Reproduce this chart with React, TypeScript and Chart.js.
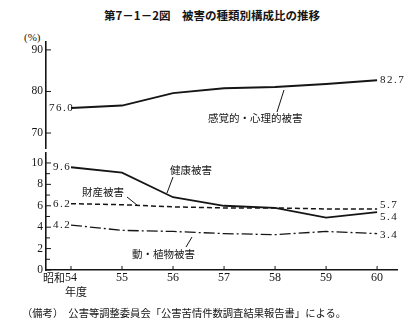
import React, { useEffect, useRef } from 'react';
import { Chart, registerables } from 'chart.js';

Chart.register(...registerables);

// ---- data ----
const years = [54, 55, 56, 57, 58, 59, 60];
const yearLabels = ['54', '55', '56', '57', '58', '59', '60'];
const sensory = [76.0, 76.6, 79.6, 80.8, 81.1, 81.8, 82.7];
const health = [9.6, 9.1, 6.8, 6.0, 5.8, 4.9, 5.4];
const property = [6.2, 6.1, 5.9, 5.8, 5.8, 5.7, 5.7];
const animal = [4.2, 3.7, 3.6, 3.4, 3.3, 3.6, 3.4];
const topTicks = [70, 80, 90];
const bottomTicks = [0, 1, 2, 3, 4, 5, 6, 7, 8, 9, 10];
const seriesNames = ['感覚的・心理的被害', '健康被害', '財産被害', '動・植物被害'];

const INK = '#151515';
const SERIF = '"Liberation Serif", "DejaVu Serif", serif';
const JP = '"Noto Sans CJK JP", sans-serif';

const pts = (vals: number[]) => years.map((x, i) => ({ x, y: vals[i] }));

function drawText(ctx: CanvasRenderingContext2D, text: string, x: number, y: number, font: string, align: CanvasTextAlign = 'left', spacing = '0px') {
  ctx.save();
  ctx.font = font;
  (ctx as any).letterSpacing = spacing;
  ctx.fillStyle = INK;
  ctx.textAlign = align;
  ctx.textBaseline = 'middle';
  ctx.fillText(text, x, y);
  ctx.restore();
}

function line(ctx: CanvasRenderingContext2D, x1: number, y1: number, x2: number, y2: number, w = 1) {
  ctx.save();
  ctx.strokeStyle = INK;
  ctx.lineWidth = w;
  ctx.beginPath();
  ctx.moveTo(x1, y1);
  ctx.lineTo(x2, y2);
  ctx.stroke();
  ctx.restore();
}

const NUM_FONT = `11px ${SERIF}`;
const LBL_FONT = `10.5px ${JP}`;
const SP = '1.5px';

const topPlugin = {
  id: 'topDecor',
  afterDraw(chart: any) {
    const { ctx, chartArea, scales } = chart;
    const xs = scales.x, ys = scales.y;
    topTicks.forEach((v) => {
      const py = ys.getPixelForValue(v);
      line(ctx, chartArea.left, py, chartArea.left + 5, py, 1);
    });
    const xn = xs.getPixelForValue(years[years.length - 1]);
    drawText(ctx, sensory[0].toFixed(1), chartArea.left + 3, ys.getPixelForValue(sensory[0]), NUM_FONT, 'left', SP);
    drawText(ctx, sensory[sensory.length - 1].toFixed(1), xn + 3, ys.getPixelForValue(sensory[sensory.length - 1]), NUM_FONT, 'left', SP);
    drawText(ctx, seriesNames[0], 208, 118, LBL_FONT, 'left');
    line(ctx, 284, 90, 277, 112, 1);
  },
};

const bottomPlugin = {
  id: 'bottomDecor',
  afterDraw(chart: any) {
    const { ctx, chartArea, scales } = chart;
    const xs = scales.x, ys = scales.y;
    bottomTicks.forEach((v) => {
      const py = ys.getPixelForValue(v);
      line(ctx, chartArea.left, py, chartArea.left + (v % 2 === 0 ? 5 : 4), py, 1);
    });
    years.forEach((v) => {
      const px = xs.getPixelForValue(v);
      line(ctx, px, chartArea.bottom, px, chartArea.bottom - 4, 1);
    });
    const x0 = xs.getPixelForValue(years[0]);
    const xn = xs.getPixelForValue(years[years.length - 1]);
    const last = years.length - 1;
    const lx = chartArea.left + 7;
    drawText(ctx, health[0].toFixed(1), lx, ys.getPixelForValue(health[0]), NUM_FONT, 'left', SP);
    drawText(ctx, property[0].toFixed(1), lx, ys.getPixelForValue(property[0]), NUM_FONT, 'left', SP);
    drawText(ctx, animal[0].toFixed(1), lx, ys.getPixelForValue(animal[0]), NUM_FONT, 'left', SP);
    drawText(ctx, property[last].toFixed(1), xn + 3, ys.getPixelForValue(property[last]) - 4, NUM_FONT, 'left', SP);
    drawText(ctx, health[last].toFixed(1), xn + 3, ys.getPixelForValue(health[last]) + 5, NUM_FONT, 'left', SP);
    drawText(ctx, animal[last].toFixed(1), xn + 3, ys.getPixelForValue(animal[last]) + 2, NUM_FONT, 'left', SP);
    drawText(ctx, seriesNames[1], 170, 170, LBL_FONT, 'left');
    line(ctx, 173, 177, 167, 193, 1);
    drawText(ctx, seriesNames[2], 82, 192, LBL_FONT, 'left');
    line(ctx, 127, 197, 137, 205, 1);
    drawText(ctx, seriesNames[3], 132, 254, LBL_FONT, 'left');
    line(ctx, 186, 247, 192, 237, 1);
    drawText(ctx, '昭和', x0 - 6, chartArea.bottom + 8, `11px ${JP}`, 'right');
    drawText(ctx, '年度', x0 + 5, chartArea.bottom + 22, `11px ${JP}`, 'center');
  },
};

const X_MIN = 53.51;
const X_MAX = 60.39;

function baseY(min: number, max: number, ticks: number[], cb: (v: number) => string) {
  return {
    min,
    max,
    afterFit: (s: any) => { s.width = 46; },
    afterBuildTicks: (s: any) => { s.ticks = ticks.map((value) => ({ value })); },
    grid: { display: false, drawTicks: false },
    border: { display: true, color: INK, width: 1.6 },
    ticks: { color: INK, font: { family: SERIF, size: 11.5 }, padding: 3, callback: cb },
  };
}

export default function App() {
  const topRef = useRef<HTMLCanvasElement>(null);
  const botRef = useRef<HTMLCanvasElement>(null);

  useEffect(() => {
    const top = new Chart(topRef.current!, {
      type: 'line',
      data: {
        datasets: [
          { label: seriesNames[0], data: pts(sensory), borderColor: INK, borderWidth: 2, pointRadius: 0, tension: 0, fill: false },
        ],
      },
      options: {
        responsive: false,
        animation: false,
        devicePixelRatio: 1,
        layout: { padding: { top: 42, bottom: 182, left: 0, right: 13 } },
        plugins: { legend: { display: false }, tooltip: { enabled: false }, title: { display: false } },
        scales: {
          x: { type: 'linear', min: X_MIN, max: X_MAX, display: false },
          y: baseY(66.4, 91.9, topTicks, (v: any) => String(v)),
        },
      },
      plugins: [topPlugin],
    } as any);

    const bot = new Chart(botRef.current!, {
      type: 'line',
      data: {
        datasets: [
          { label: seriesNames[1], data: pts(health), borderColor: INK, borderWidth: 1.8, pointRadius: 0, tension: 0, fill: false },
          { label: seriesNames[2], data: pts(property), borderColor: INK, borderWidth: 1.5, borderDash: [5, 3], pointRadius: 0, tension: 0, fill: false },
          { label: seriesNames[3], data: pts(animal), borderColor: INK, borderWidth: 1.3, borderDash: [11, 3, 2, 3], pointRadius: 0, tension: 0, fill: false },
        ],
      },
      options: {
        responsive: false,
        animation: false,
        devicePixelRatio: 1,
        layout: { padding: { top: 153, bottom: 40, left: 0, right: 13 } },
        plugins: { legend: { display: false }, tooltip: { enabled: false }, title: { display: false } },
        scales: {
          x: {
            type: 'linear',
            min: X_MIN,
            max: X_MAX,
            afterFit: (s: any) => { s.height = 20; },
            afterBuildTicks: (s: any) => { s.ticks = years.map((value) => ({ value })); },
            grid: { display: false, drawTicks: false },
            border: { display: true, color: INK, width: 1.6 },
            ticks: {
              color: INK,
              font: { family: SERIF, size: 12 },
              padding: 1,
              autoSkip: false,
              maxRotation: 0,
              callback: (v: any) => yearLabels[years.indexOf(Number(v))] ?? '',
            },
          },
          y: baseY(0, 10.93, bottomTicks, (v: any) => (Number(v) % 2 === 0 ? String(v) : '')),
        },
      },
      plugins: [bottomPlugin],
    } as any);

    return () => {
      top.destroy();
      bot.destroy();
    };
  }, []);

  const abs: React.CSSProperties = { position: 'absolute', left: 0, top: 0 };
  return (
    <div style={{ position: 'absolute', left: 0, top: 0, width: 410, height: 330, background: '#fff', color: INK, overflow: 'hidden' }}>
      <div style={{ position: 'absolute', left: 0, top: 6, width: 424, textAlign: 'center', fontFamily: JP, fontWeight: 700, fontSize: 11.5, lineHeight: '18px', whiteSpace: 'nowrap' }}>
        第7－1－2図　被害の種類別構成比の推移
      </div>
      <div style={{ position: 'absolute', left: 24, top: 29, fontFamily: SERIF, fontSize: 11, lineHeight: '16px' }}>(%)</div>
      <canvas ref={botRef} width={410} height={330} style={abs} />
      <canvas ref={topRef} width={410} height={330} style={abs} />
      <div style={{ position: 'absolute', left: 22, top: 305, fontFamily: JP, fontSize: 10.3, lineHeight: '16px', whiteSpace: 'nowrap' }}>
        （備考）　公害等調整委員会「公害苦情件数調査結果報告書」による。
      </div>
    </div>
  );
}
